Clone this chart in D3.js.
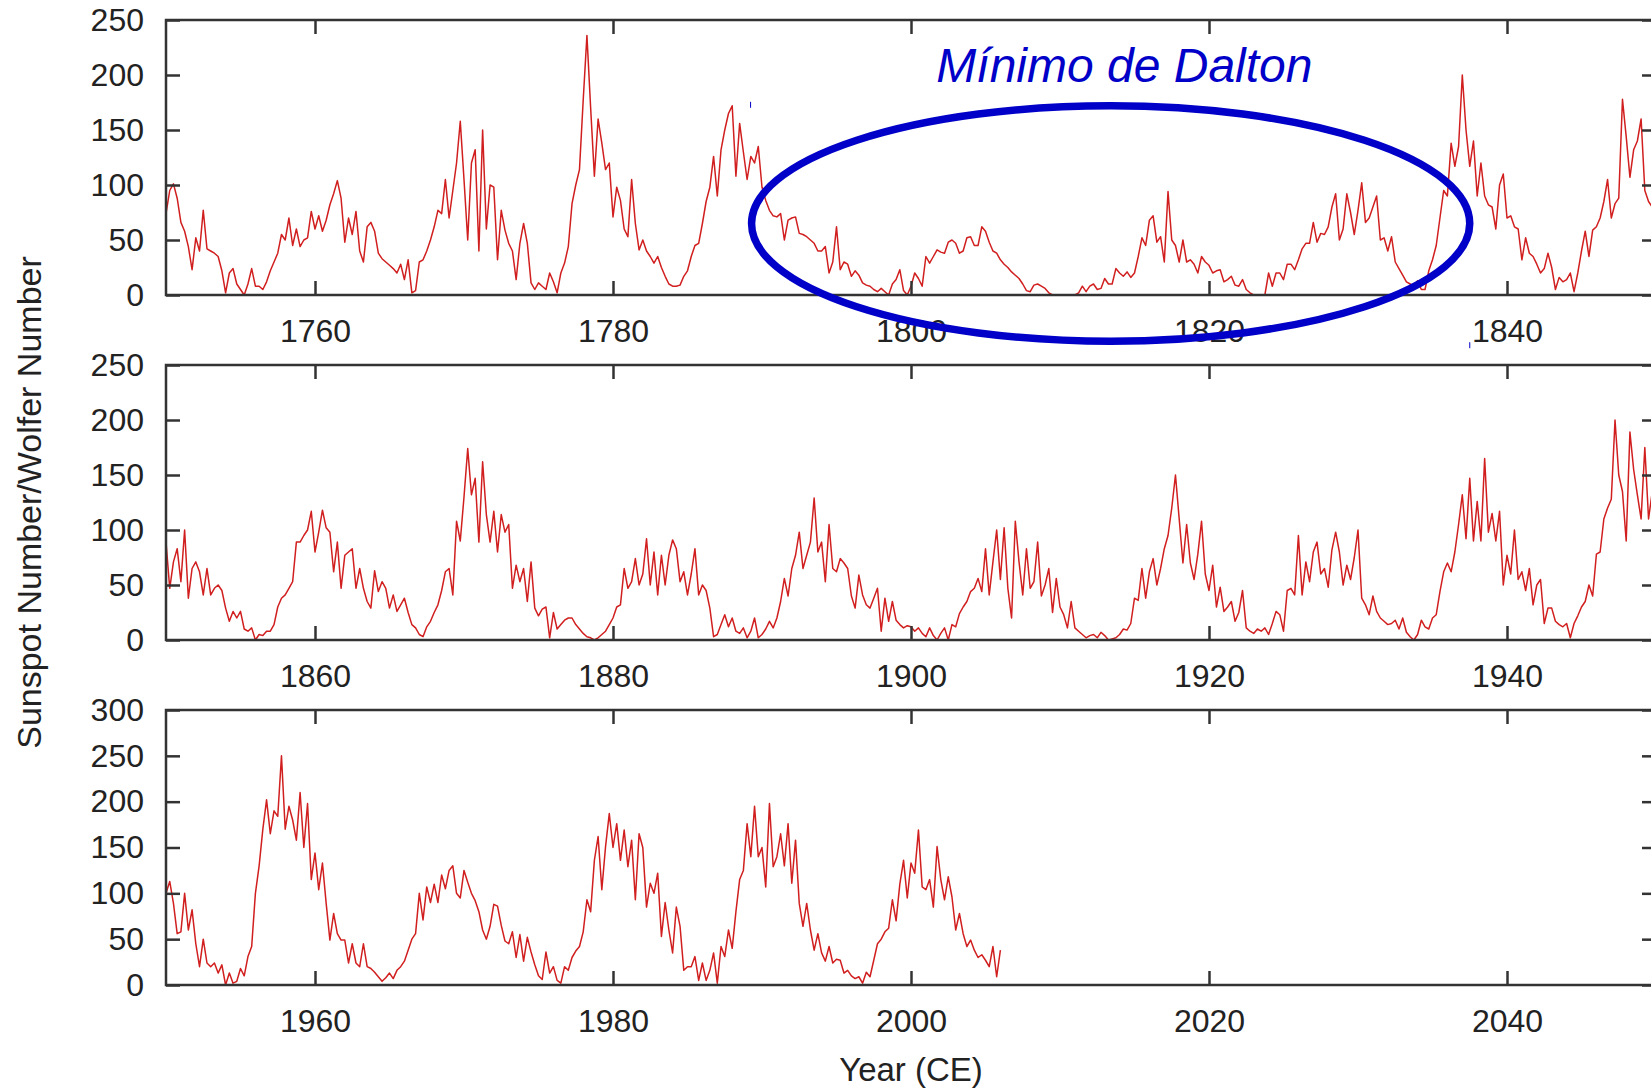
<!DOCTYPE html>
<html>
<head>
<meta charset="utf-8">
<script src="https://cdn.jsdelivr.net/npm/d3@7"></script>
<style>
body { margin: 0; background: #fff; }
svg { display: block; font-family: "Liberation Sans", Arial, sans-serif; }
</style>
</head>
<body>
<svg width="1651" height="1089"></svg>
<script>
// Sunspot numbers, 4 readings per year (Jan, Apr, Jul, Oct)
var ssn1750 = [
    74, 95, 101, 88,   66, 58, 44, 23,   52, 40, 77, 42,   40, 38, 35, 22,   2, 20, 24, 10,
    5, 0, 10, 24,      8, 8, 5, 12,      22, 30, 38, 55,   50, 70, 45, 60,   44, 50, 52, 76,
    60, 72, 58, 68,    82, 92, 104, 88,  48, 70, 55, 76,   40, 30, 62, 66,   58, 38, 33, 30,
    27, 24, 20, 28,    14, 32, 2, 4,     30, 32, 40, 50,   62, 77, 74, 105,  70, 95, 120, 158,
    105, 50, 120, 132, 40, 150, 60, 100, 98, 32, 77, 59,   47, 40, 14, 47,   65, 47, 11, 5,
    11, 8, 5, 20,      12, 2, 20, 29,    44, 83, 100, 114, 177, 236, 170, 108, 160, 138, 114, 120,
    71, 98, 86, 60,    53, 105, 65, 41,  50, 40, 35, 29,   35, 25, 17, 10,   8, 8, 9, 17,
    22, 35, 45, 47,    65, 85, 98, 126,  90, 132, 150, 165, 172, 108, 156, 130, 105, 126, 120, 135,
    98, 86, 77, 72,    71, 74, 50, 68,   70, 71, 56, 55,   53, 50, 47, 40,   40, 44, 20, 30,
    62, 23, 30, 28,    17, 22, 18, 11,   9, 8, 5, 3,       6, 3, 0, 10,      14, 23, 4, 0,
    8, 20, 15, 8,      35, 29, 35, 41,   39, 38, 48, 50,   47, 38, 40, 52,   53, 45, 45, 62,
    58, 48, 40, 38,    32, 28, 25, 21,   18, 15, 10, 4,    3, 9, 10, 8,      6, 2, 0, 0,
    0, 0, 0, 0,        0, 2, 8, 3,       8, 10, 5, 6,      15, 10, 10, 24,   20, 17, 21, 16,
    20, 35, 52, 45,    68, 72, 48, 53,   30, 94, 50, 45,   30, 50, 30, 32,   28, 20, 35, 30,
    27, 20, 22, 23,    12, 14, 17, 9,    8, 14, 5, 2,      0, 0, 0, 0,       20, 8, 20, 20,
    14, 28, 28, 23,    32, 42, 47, 47,   66, 48, 56, 55,   62, 80, 92, 50,   60, 92, 75, 55,
    77, 102, 66, 70,   80, 90, 50, 52,   40, 53, 30, 24,   18, 12, 10, 8,    13, 5, 5, 22,
    32, 45, 70, 95,    90, 138, 117, 135, 200, 150, 117, 140, 90, 120, 90, 82, 80, 60, 100, 110,
    70, 72, 62, 60,    32, 52, 38, 35,   28, 20, 24, 38,   25, 5, 16, 12,    14, 20, 3, 20,
    40, 58, 35, 59,    62, 70, 85, 105,  70, 83, 88, 178,  144, 107, 132, 140, 160, 95, 85, 80
];

var ssn1850 = [
    89, 47, 71, 83,    53, 100, 38, 65,  71, 62, 41, 65,   41, 47, 50, 45,   29, 17, 26, 20,
    26, 10, 8, 11,     0, 5, 4, 8,       8, 14, 30, 38,    41, 47, 53, 89,   89, 95, 100, 117,
    80, 98, 118, 102,  98, 62, 89, 47,   77, 80, 83, 47,   65, 47, 35, 29,   63, 44, 53, 47,
    29, 41, 26, 32,    38, 25, 14, 11,   5, 3, 12, 17,     25, 32, 45, 62,   65, 41, 108, 90,
    130, 174, 132, 147, 89, 162, 114, 89, 117, 80, 114, 98, 105, 47, 68, 53, 65, 35, 71, 29,
    22, 28, 30, 2,     25, 10, 14, 18,   20, 20, 14, 10,   6, 3, 2, 0,       2, 5, 8, 14,
    20, 30, 32, 65,    47, 53, 74, 50,   60, 92, 50, 80,   41, 77, 50, 77,   91, 83, 53, 62,
    41, 60, 83, 41,    50, 45, 29, 3,    5, 14, 23, 12,    20, 8, 6, 11,     2, 8, 20, 2,
    5, 10, 17, 11,     20, 35, 56, 40,   65, 77, 98, 65,   77, 89, 129, 80,  89, 53, 105, 65,
    62, 74, 70, 65,    40, 29, 59, 41,   32, 29, 38, 47,   8, 38, 17, 35,    18, 14, 11, 13,
    12, 8, 11, 6,      3, 11, 4, 0,      6, 11, 0, 14,     12, 24, 30, 35,   44, 47, 56, 44,
    83, 41, 71, 100,   55, 102, 47, 20,  108, 71, 41, 83,  47, 53, 89, 40,   50, 65, 25, 56,
    30, 23, 11, 35,    11, 8, 5, 2,      4, 5, 2, 7,       4, 0, 1, 2,       5, 10, 9, 15,
    38, 36, 65, 38,    62, 74, 50, 65,   83, 95, 120, 150, 110, 70, 105, 70, 55, 78, 108, 60,
    45, 68, 30, 48,    26, 30, 35, 17,   25, 45, 11, 8,    6, 10, 8, 11,     5, 15, 26, 23,
    8, 45, 47, 41,     95, 41, 71, 53,   80, 89, 60, 65,   48, 82, 98, 80,   50, 68, 55, 75,
    100, 38, 32, 23,   40, 26, 20, 17,   14, 15, 18, 10,   20, 7, 3, 0,      5, 18, 12, 10,
    20, 23, 44, 62,    70, 62, 80, 105,  132, 92, 147, 90, 126, 90, 165, 98, 115, 90, 117, 50,
    77, 60, 100, 55,   62, 45, 65, 32,   50, 55, 15, 29,   29, 17, 14, 12,   15, 2, 15, 22,
    30, 35, 50, 40,    78, 80, 110, 120, 128, 200, 150, 135, 90, 189, 155, 132, 110, 175, 110, 135
];

var ssn1950 = [
    100, 113, 89, 56,  58, 100, 60, 82,  45, 20, 50, 24,   20, 24, 13, 22,   0, 13, 2, 4,
    18, 10, 31, 42,    100, 130, 170, 202, 165, 190, 184, 250, 170, 195, 180, 158, 210, 150, 198, 115,
    144, 104, 133, 89, 49, 78, 56, 49,   49, 24, 45, 24,   20, 45, 20, 18,   14, 9, 4, 8,
    13, 7, 16, 20,     26, 38, 50, 56,   100, 71, 107, 90, 110, 90, 120, 105, 125, 130, 100, 95,
    125, 112, 100, 92, 80, 60, 50, 64,   88, 86, 65, 48,   45, 58, 30, 55,   26, 52, 36, 22,
    10, 6, 36, 13,     20, 5, 2, 20,     16, 30, 37, 42,   58, 93, 80, 136,  162, 104, 151, 187,
    150, 176, 136, 169, 129, 158, 93, 165, 150, 85, 111, 100, 122, 53, 90, 60, 35, 85, 64, 16,
    20, 20, 31, 5,     24, 5, 16, 35,    2, 42, 31, 60,    40, 80, 115, 125, 176, 140, 195, 140,
    150, 107, 198, 129, 140, 165, 130, 176, 111, 158, 89, 64, 89, 60, 38, 56, 35, 26, 42, 24,
    28, 27, 13, 16,    10, 7, 9, 2,      14, 9, 27, 45,    50, 58, 62, 93,   70, 110, 136, 95,
    133, 122, 169, 107, 104, 115, 85, 151, 115, 93, 118, 96, 60, 78, 56, 42, 49, 38, 30, 33,
    27, 20, 42, 9,     38
];

var panelSeries = [ssn1750, ssn1850, ssn1950];
var panelStart = [1750, 1850, 1950];
var panelYMax = [250, 250, 300];
var yTicks = [
    [0, 50, 100, 150, 200, 250],
    [0, 50, 100, 150, 200, 250],
    [0, 50, 100, 150, 200, 250, 300]
];
var xTicks = [
    [1760, 1780, 1800, 1820, 1840],
    [1860, 1880, 1900, 1920, 1940],
    [1960, 1980, 2000, 2020, 2040]
];

// Dalton minimum annotation, in years / sunspot units of the top panel
var daltonYears = [1789.3, 1837.5];
var daltonValues = [-42, 172];
var daltonLabel = "Mínimo de Dalton";
var daltonLabelAt = [1801.7, 193.6];

var svg = d3.select("svg"),
    left = 166,
    right = 1656,
    panelH = 275,
    panelTop = [20, 365, 710],
    axisColor = "#333",
    textColor = "#222",
    lineColor = "#d11f1f",
    blue = "#0000c8";

var topX, topY;

panelSeries.forEach(function(series, i) {
    var start = panelStart[i],
        top = panelTop[i];

    var x = d3.scaleLinear().domain([start, start + 100]).range([left, right]);
    var y = d3.scaleLinear().domain([0, panelYMax[i]]).range([top + panelH, top]);
    if (i == 0) { topX = x; topY = y; }

    var data = series.map(function(v, k) { return {t: start + k / 4, v: v}; });

    svg.append("clipPath")
        .attr("id", "clip" + i)
        .append("rect")
        .attr("x", left)
        .attr("y", top - 2)
        .attr("width", right - left)
        .attr("height", panelH + 4);

    svg.append("path")
        .datum(data)
        .attr("clip-path", "url(#clip" + i + ")")
        .attr("fill", "none")
        .attr("stroke", lineColor)
        .attr("stroke-width", 1.5)
        .attr("stroke-linejoin", "round")
        .attr("d", d3.line()
            .x(function(d) { return x(d.t); })
            .y(function(d) { return y(d.v); }));

    var axes = svg.append("g");

    axes.append("g")
        .attr("transform", "translate(0," + (top + panelH) + ")")
        .call(d3.axisBottom(x).tickValues(xTicks[i]).tickSize(-14).tickPadding(24).tickFormat(d3.format("d")));

    axes.append("g")
        .attr("transform", "translate(0," + top + ")")
        .call(d3.axisTop(x).tickValues(xTicks[i]).tickSize(-14).tickFormat(""));

    axes.append("g")
        .attr("transform", "translate(" + left + ",0)")
        .call(d3.axisLeft(y).tickValues(yTicks[i]).tickSize(-14).tickPadding(22));

    axes.append("g")
        .attr("transform", "translate(" + right + ",0)")
        .call(d3.axisRight(y).tickValues(yTicks[i]).tickSize(-14).tickFormat(""));

    axes.selectAll(".domain").remove();
    axes.selectAll(".tick line")
        .attr("stroke", axisColor)
        .attr("stroke-width", 2.5);
    axes.selectAll(".tick text")
        .attr("fill", textColor)
        .style("font-size", "32px")
        .style("font-family", "'Liberation Sans', Arial, sans-serif");

    axes.append("rect")
        .attr("x", left)
        .attr("y", top)
        .attr("width", right - left)
        .attr("height", panelH)
        .attr("fill", "none")
        .attr("stroke", axisColor)
        .attr("stroke-width", 2.5);
});

// axis titles
svg.append("text")
    .attr("transform", "translate(41," + ((panelTop[0] + panelTop[2] + panelH) / 2) + ") rotate(-90)")
    .attr("text-anchor", "middle")
    .attr("fill", textColor)
    .style("font-size", "34px")
    .text("Sunspot Number/Wolfer Number");

svg.append("text")
    .attr("x", (left + right) / 2)
    .attr("y", 1081)
    .attr("text-anchor", "middle")
    .attr("fill", textColor)
    .style("font-size", "33px")
    .text("Year (CE)");

// Dalton minimum ellipse + label
var ex0 = topX(daltonYears[0]), ex1 = topX(daltonYears[1]),
    eyTop = topY(daltonValues[1]), eyBot = topY(daltonValues[0]);

svg.append("text")
    .attr("x", topX(daltonLabelAt[0]))
    .attr("y", topY(daltonLabelAt[1]))
    .attr("fill", blue)
    .style("font-size", "48px")
    .style("font-style", "italic")
    .text(daltonLabel);

svg.append("ellipse")
    .attr("cx", (ex0 + ex1) / 2)
    .attr("cy", (eyTop + eyBot) / 2)
    .attr("rx", (ex1 - ex0) / 2)
    .attr("ry", (eyBot - eyTop) / 2)
    .attr("fill", "none")
    .attr("stroke", blue)
    .attr("stroke-width", 7.5);

// little selection marks left on the corners of the ellipse box
svg.append("line")
    .attr("x1", ex0 - 1).attr("x2", ex0 - 1)
    .attr("y1", eyTop - 4).attr("y2", eyTop + 2)
    .attr("stroke", blue).attr("stroke-width", 1);
svg.append("line")
    .attr("x1", ex1).attr("x2", ex1)
    .attr("y1", eyBot + 1).attr("y2", eyBot + 7)
    .attr("stroke", blue).attr("stroke-width", 1);
</script>
</body>
</html>
